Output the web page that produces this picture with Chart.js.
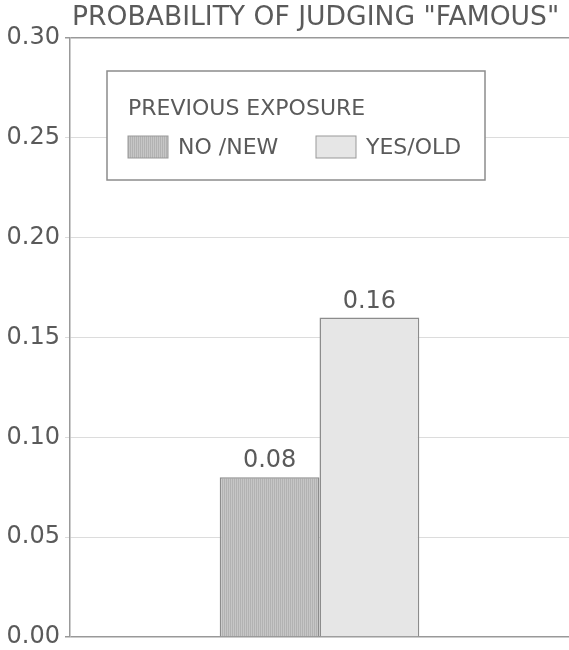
<!DOCTYPE html>
<html><head><meta charset="utf-8">
<script src="https://cdn.jsdelivr.net/npm/chart.js@4"></script>
<style>html,body{margin:0;padding:0;background:#fff}canvas{display:block}</style>
</head><body>
<canvas id="c" width="569" height="650"></canvas>
<script>
const chartTitle = 'PROBABILITY OF JUDGING "FAMOUS"';
const legendTitle = 'PREVIOUS EXPOSURE';
const categories = [''];
const seriesLabels = ['NO /NEW', 'YES/OLD'];
const noNewValues = [0.08];
const yesOldValues = [0.16];
const yTicks = [0, 0.05, 0.10, 0.15, 0.20, 0.25, 0.30];

const FONT = 'DejaVu Sans';
const TEXT = '#5a5a5a';
const canvas = document.getElementById('c');
const ctx = canvas.getContext('2d');

function makePattern(base, stripe) {
  const p = document.createElement('canvas');
  p.width = 2; p.height = 2;
  const g = p.getContext('2d');
  g.fillStyle = base; g.fillRect(0, 0, 2, 2);
  g.fillStyle = stripe; g.fillRect(0, 0, 1, 2);
  return ctx.createPattern(p, 'repeat');
}
const darkFill = makePattern('#c6c6c6', '#b2b2b2');
const lightFill = '#e6e6e6';

const titlePlugin = {
  id: 'titleText',
  afterDraw(chart) {
    const c = chart.ctx, a = chart.chartArea;
    c.save();
    c.font = '26.6px "' + FONT + '"';
    c.fillStyle = TEXT;
    c.textAlign = 'left';
    c.textBaseline = 'alphabetic';
    c.fillText(chartTitle, a.left + 2, 25);
    c.restore();
  }
};

const valueLabels = {
  id: 'valueLabels',
  afterDatasetsDraw(chart) {
    const c = chart.ctx;
    c.save();
    c.font = '24px "' + FONT + '"';
    c.fillStyle = TEXT;
    c.textAlign = 'center';
    c.textBaseline = 'alphabetic';
    chart.data.datasets.forEach((ds, i) => {
      chart.getDatasetMeta(i).data.forEach((el, j) => {
        c.fillText(ds.data[j].toFixed(2), el.x, el.y - 10);
      });
    });
    c.restore();
  }
};

const legendBox = {
  id: 'legendBox',
  afterDraw(chart) {
    const c = chart.ctx, a = chart.chartArea;
    const bx = a.left + 37, by = a.top + 33, bw = 378, bh = 109;
    c.save();
    c.fillStyle = '#fff';
    c.fillRect(bx, by, bw, bh);
    c.strokeStyle = '#8c8c8c';
    c.lineWidth = 1.5;
    c.strokeRect(bx, by, bw, bh);
    c.font = '22px "' + FONT + '"';
    c.fillStyle = TEXT;
    c.textAlign = 'left';
    c.textBaseline = 'middle';
    c.fillText(legendTitle, bx + 21, by + 38);
    chart.data.datasets.forEach((ds, i) => {
      const sx = bx + 21 + i * 188, sy = by + 65;
      c.fillStyle = ds.backgroundColor;
      c.fillRect(sx, sy, 40, 22);
      c.strokeStyle = '#999';
      c.lineWidth = 1;
      c.strokeRect(sx, sy, 40, 22);
      c.fillStyle = TEXT;
      c.fillText(ds.label, sx + 50, sy + 12);
    });
    c.restore();
  }
};

new Chart(ctx, {
  type: 'bar',
  data: {
    labels: categories,
    datasets: [
      { label: seriesLabels[0], data: noNewValues, backgroundColor: darkFill, borderColor: '#8c8c8c', borderWidth: 1.5 },
      { label: seriesLabels[1], data: yesOldValues, backgroundColor: lightFill, borderColor: '#8c8c8c', borderWidth: 1.5 }
    ]
  },
  options: {
    responsive: false,
    animation: false,
    layout: { padding: { top: 38, bottom: 13, left: 0, right: 0 } },
    datasets: { bar: { categoryPercentage: 0.4, barPercentage: 1.0 } },
    plugins: { legend: { display: false }, title: { display: false }, tooltip: { enabled: false } },
    scales: {
      x: { display: false },
      y: {
        min: 0, max: 0.30,
        afterBuildTicks: s => { s.ticks = yTicks.map(v => ({ value: v })); },
        afterFit: s => { s.width = 70; },
        border: { display: true, color: '#999', width: 1.5 },
        grid: {
          color: c => (c.tick && (c.tick.value === 0 || c.tick.value === 0.30)) ? '#999' : '#dcdcdc',
          lineWidth: c => (c.tick && (c.tick.value === 0 || c.tick.value === 0.30)) ? 1.5 : 1,
          tickLength: 5,
          drawTicks: true
        },
        ticks: {
          padding: 5,
          color: TEXT,
          font: { family: FONT, size: 24, lineHeight: 0.6 },
          callback: v => Number(v).toFixed(2)
        }
      }
    }
  },
  plugins: [titlePlugin, valueLabels, legendBox]
});
</script>
</body></html>
